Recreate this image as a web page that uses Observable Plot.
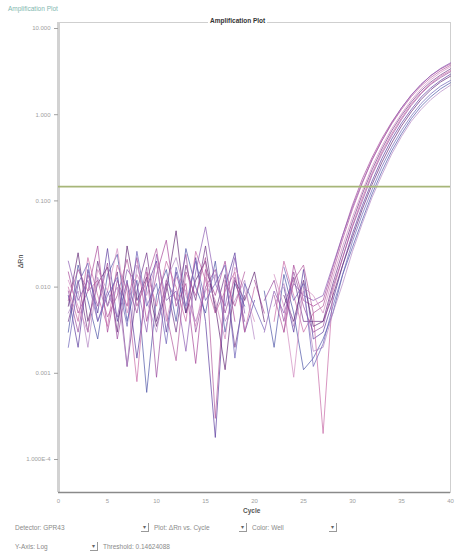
<!DOCTYPE html>
<html>
<head>
<meta charset="utf-8">
<script src="https://cdn.jsdelivr.net/npm/d3@7"></script>
<script src="https://cdn.jsdelivr.net/npm/@observablehq/plot@0.6"></script>
<style>
  html, body { margin: 0; padding: 0; background: #fff; width: 464px; height: 560px; overflow: hidden; }
  body { position: relative; font-family: "Liberation Sans", Arial, sans-serif; }
  .abs { position: absolute; white-space: nowrap; }
  #chart { position: absolute; left: 0; top: 0; }
  .ctl { font-size: 6.5px; color: #8a8a8a; }
  .dd { position: absolute; width: 7px; height: 8px; border-right: 1px solid #999; border-bottom: 1px solid #999; font-size: 6px; color: #666; text-align: center; line-height: 8px; }
</style>
</head>
<body>
<div id="chart"></div>
<div class="abs" style="left:8px;top:5px;font-size:6.5px;color:#7fb8b0;">Amplification Plot</div>
<div class="abs" style="left:208px;top:17px;font-size:6.5px;font-weight:bold;color:#333;background:#fff;padding:0 2px;">Amplification Plot</div>
<div class="abs" style="left:14px;top:258px;font-size:7px;color:#333;transform:rotate(-90deg);transform-origin:center;">ΔRn</div>
<div class="abs" style="left:243px;top:507px;font-size:6.5px;font-weight:bold;color:#555;">Cycle</div>
<div class="abs ctl" style="left:15px;top:524px;">Detector: GPR43</div>
<div class="dd" style="left:141px;top:523px;">▾</div>
<div class="abs ctl" style="left:154px;top:524px;">Plot: ΔRn vs. Cycle</div>
<div class="dd" style="left:239px;top:523px;">▾</div>
<div class="abs ctl" style="left:252px;top:524px;">Color: Well</div>
<div class="dd" style="left:329px;top:523px;">▾</div>
<div class="abs ctl" style="left:15px;top:543px;">Y-Axis: Log</div>
<div class="dd" style="left:90px;top:542px;">▾</div>
<div class="abs ctl" style="left:103px;top:543px;">Threshold: 0.14624088</div>
<script>
const cycles = d3.range(1, 41);
const wells = ["A1", "A2", "A3", "A4", "B1", "B2", "B3", "B4", "C1", "C2", "C3", "C4"];
const wellColors = ["#74398a", "#5b3c9e", "#a8489a", "#4f55a6", "#c76aa6", "#642a76", "#8d5db4", "#b488c4", "#9b4ea0", "#d28cc0", "#6c62b8", "#b25a9e"];
const threshold = 0.14624088;
const yTicks = [10, 1, 0.1, 0.01, 0.001, 0.0001];
const xTicks = [0, 5, 10, 15, 20, 25, 30, 35, 40];

const wA1 = [0.004, 0.012, 0.003, 0.02, 0.006, 0.015, 0.0012, 0.009, 0.025, 0.004, 0.011, 0.003, 0.018, 0.007, 0.03, 0.005, 0.014, 0.002, 0.008, null, 0.004, null, 0.006, 0.013, 0.004, 0.004,
  0.004, 0.011, 0.026, 0.058, 0.12, 0.23, 0.4, 0.65, 0.98, 1.4, 1.9, 2.4, 2.9, 3.4];
const wA2 = [0.008, 0.002, 0.016, 0.005, 0.028, 0.004, 0.012, 0.0015, 0.01, 0.02, 0.003, 0.015, 0.005, 0.022, 0.004, 0.00018, 0.01, 0.025, 0.003, 0.007, null, null, 0.01, 0.003, 0.016, 0.0025,
  0.003, 0.007, 0.018, 0.042, 0.088, 0.17, 0.31, 0.52, 0.8, 1.15, 1.6, 2.05, 2.5, 2.95];
const wA3 = [0.015, 0.005, 0.009, 0.03, 0.003, 0.012, 0.006, 0.022, 0.004, 0.014, 0.035, 0.006, 0.011, 0.0013, 0.016, 0.008, 0.02, 0.004, null, 0.012, 0.005, null, 0.003, 0.018, 0.007, 0.006,
  0.007, 0.017, 0.04, 0.09, 0.18, 0.32, 0.53, 0.82, 1.2, 1.7, 2.25, 2.85, 3.4, 3.9];
const wA4 = [0.003, 0.018, 0.007, 0.0025, 0.014, 0.024, 0.004, 0.012, 0.0006, 0.008, 0.016, 0.004, 0.028, 0.01, 0.005, 0.02, 0.003, 0.011, 0.006, null, 0.009, 0.002, 0.014, 0.005, 0.0011, 0.0015,
  0.0025, 0.005, 0.014, 0.029, 0.06, 0.12, 0.22, 0.38, 0.6, 0.9, 1.25, 1.62, 2.0, 2.35];
const wB1 = [0.01, 0.004, 0.022, 0.008, 0.0035, 0.018, 0.009, 0.0008, 0.015, 0.006, 0.02, 0.01, 0.004, 0.026, 0.012, 0.005, 0.009, 0.015, 0.003, 0.01, null, 0.004, 0.02, 0.008, 0.003, 0.005,
  0.0002, 0.009, 0.022, 0.052, 0.108, 0.21, 0.37, 0.6, 0.92, 1.33, 1.8, 2.3, 2.8, 3.25];
const wB2 = [0.006, 0.025, 0.004, 0.011, 0.017, 0.003, 0.03, 0.007, 0.013, 0.0035, 0.009, 0.045, 0.005, 0.012, 0.02, 0.006, 0.0011, 0.012, 0.007, 0.015, 0.004, null, 0.008, 0.004, 0.012, 0.0035,
  0.004, 0.008, 0.018, 0.038, 0.08, 0.155, 0.28, 0.47, 0.74, 1.08, 1.5, 1.95, 2.4, 2.8];
const wB3 = [0.02, 0.007, 0.012, 0.004, 0.009, 0.0045, 0.016, 0.011, 0.003, 0.024, 0.007, 0.009, 0.0018, 0.015, 0.05, 0.011, 0.006, 0.022, 0.005, null, 0.003, 0.009, 0.005, 0.011, 0.008, 0.007,
  0.008, 0.018, 0.04, 0.085, 0.165, 0.3, 0.5, 0.8, 1.2, 1.68, 2.25, 2.85, 3.45, 4.0];
const wB4 = [0.005, 0.009, 0.002, 0.013, 0.006, 0.01, 0.0012, 0.018, 0.007, 0.003, 0.012, 0.022, 0.008, 0.004, 0.009, 0.014, 0.004, 0.007, 0.012, 0.0025, null, 0.006, 0.011, 0.0035, 0.009, 0.0018,
  0.002, 0.005, 0.011, 0.026, 0.055, 0.11, 0.2, 0.35, 0.56, 0.84, 1.15, 1.5, 1.85, 2.2];
const wC1 = [0.009, 0.003, 0.014, 0.006, 0.019, 0.0025, 0.011, 0.005, 0.017, 0.0009, 0.012, 0.007, 0.024, 0.003, 0.01, 0.016, 0.005, 0.013, 0.004, null, 0.007, 0.012, 0.004, 0.015, 0.006, 0.003,
  0.0035, 0.01, 0.022, 0.05, 0.1, 0.2, 0.35, 0.57, 0.88, 1.28, 1.75, 2.25, 2.7, 3.15];
const wC2 = [0.012, 0.006, 0.003, 0.016, 0.009, 0.028, 0.005, 0.014, 0.008, 0.019, 0.004, 0.013, 0.009, 0.0035, 0.013, 0.007, 0.0025, 0.017, 0.009, 0.004, null, 0.014, 0.006, 0.0009, 0.01, 0.008,
  0.005, 0.013, 0.03, 0.065, 0.13, 0.25, 0.43, 0.69, 1.03, 1.48, 2.0, 2.55, 3.1, 3.6];
const wC3 = [0.002, 0.011, 0.019, 0.004, 0.008, 0.013, 0.0035, 0.026, 0.006, 0.011, 0.0022, 0.017, 0.006, 0.02, 0.007, 0.011, 0.018, 0.0015, 0.011, 0.006, 0.0032, null, 0.017, 0.007, 0.011, 0.0012,
  0.0022, 0.006, 0.014, 0.034, 0.07, 0.135, 0.25, 0.42, 0.66, 0.97, 1.35, 1.75, 2.15, 2.5];
const wC4 = [0.007, 0.016, 0.009, 0.012, 0.0045, 0.008, 0.021, 0.006, 0.012, 0.028, 0.005, 0.0014, 0.015, 0.008, 0.022, 0.0003, 0.012, 0.006, 0.015, null, null, 0.008, 0.003, 0.012, 0.018, 0.005,
  0.006, 0.015, 0.036, 0.08, 0.16, 0.3, 0.5, 0.78, 1.15, 1.62, 2.15, 2.7, 3.25, 3.75];

const series = [wA1, wA2, wA3, wA4, wB1, wB2, wB3, wB4, wC1, wC2, wC3, wC4];
const rows = wells.flatMap((w, i) => series[i].map((v, j) => ({ well: w, cycle: cycles[j], dRn: v })));

const yMin = 4.14e-5, yMax = 11.74;

const chart = Plot.plot({
  width: 464,
  height: 516,
  marginLeft: 58,
  marginRight: 14,
  marginTop: 22,
  marginBottom: 24,
  style: { fontSize: "6px", fontFamily: "Liberation Sans, Arial, sans-serif", color: "#a0a0a0", background: "transparent" },
  x: { domain: [0, 40], axis: null },
  y: { type: "log", domain: [yMin, yMax], axis: null },
  color: { domain: wells, range: wellColors },
  marks: [
    Plot.frame({ stroke: "#cfcfcf" }),
    Plot.ruleX([0], { stroke: "#d2d2d2", strokeWidth: 3 }),
    Plot.ruleY([yMin], { stroke: "#8a8a8a", strokeWidth: 1.5 }),
    Plot.axisY({ ticks: yTicks, tickSize: 4, tickPadding: 4, tickFormat: d => d >= 0.001 ? d.toFixed(3) : d.toExponential(3).toUpperCase(), label: null }),
    Plot.axisX({ ticks: xTicks, tickSize: 0, tickPadding: 6, label: null }),
    Plot.line(rows, { x: "cycle", y: "dRn", z: "well", stroke: "well", strokeWidth: 1, strokeOpacity: 0.7 }),
    Plot.ruleY([threshold], { stroke: "#a7b679", strokeWidth: 1.6 })
  ]
});
document.getElementById("chart").appendChild(chart);
</script>
</body>
</html>
